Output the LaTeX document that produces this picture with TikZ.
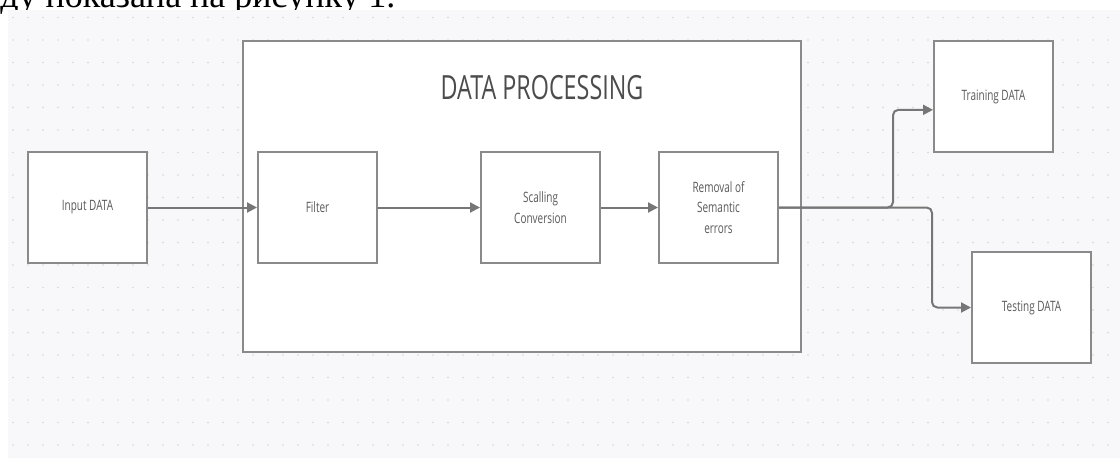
\documentclass[tikz,border=0pt]{standalone}
\usepackage{fontspec}
\usetikzlibrary{arrows.meta}
\setmainfont{Liberation Serif}
\newfontfamily\diagfont[FakeStretch=0.7]{Open Sans}
\definecolor{bggrey}{HTML}{F8F8FA}
\definecolor{dotgrey}{HTML}{D6D6DA}
\definecolor{boxgrey}{HTML}{8A8A8A}
\definecolor{linegrey}{HTML}{767676}
\definecolor{textgrey}{HTML}{5A5A5A}
\tikzset{
  block/.style={draw=boxgrey, line width=1.5pt, fill=white, minimum width=89.25pt,
    minimum height=83.25pt, inner sep=0pt, align=center, text=textgrey,
    font=\diagfont\fontsize{10.7}{15.4}\selectfont},
  flow/.style={draw=linegrey, line width=1.5pt, rounded corners=4pt,
    -{Triangle[length=7.5pt,width=7.5pt]}}
}
\begin{document}
\begin{tikzpicture}[x=0.75pt,y=-0.75pt]
\useasboundingbox (0,0) rectangle (1120,458);
% page text cut off at the top
\begin{scope}
\clip (0,0) rectangle (1120,458);
\node[anchor=base west, inner sep=0pt, font=\rmfamily\fontsize{27}{30}\selectfont] (pagetext) at (0,7) {ду показана на рисунку 1.};
\end{scope}
% dotted canvas
\fill[bggrey] (8,10) rectangle (1120,458);
\foreach \i in {0,...,73}
  \foreach \j in {0,...,19}
    \fill[dotgrey] (13+15*\i,17.5+22.5*\j) circle (0.7pt);
% big processing box
\node[draw=boxgrey, line width=1.5pt, fill=white, minimum width=418.5pt, minimum height=233.25pt, inner sep=0pt] (proc) at (522,196.5) {};
\node[text=textgrey!85!black, font=\diagfont\fontsize{25}{28}\selectfont] (title) at (542,88) {DATA PROCESSING};
% blocks
\node[block] (input) at (87.5,207.5) {Input DATA};
\node[block] (filter) at (317.5,207.5) {Filter};
\node[block] (scaling) at (540.5,207.5) {Scalling\\Conversion};
\node[block] (removal) at (718.5,207.5) {Removal of\\Semantic\\errors};
\node[block] (train) at (993.5,96.5) {Training DATA};
\node[block] (test) at (1031.5,307.5) {Testing DATA};
% connectors
\draw[flow] (input) -- (filter);
\draw[flow] (filter) -- (scaling);
\draw[flow] (scaling) -- (removal);
\draw[flow] (removal.east) -- ++(114,0) |- ([yshift=-10pt]train.west);
\draw[flow] (removal.east) -- ++(153,0) |- (test.west);
\end{tikzpicture}
\end{document}
